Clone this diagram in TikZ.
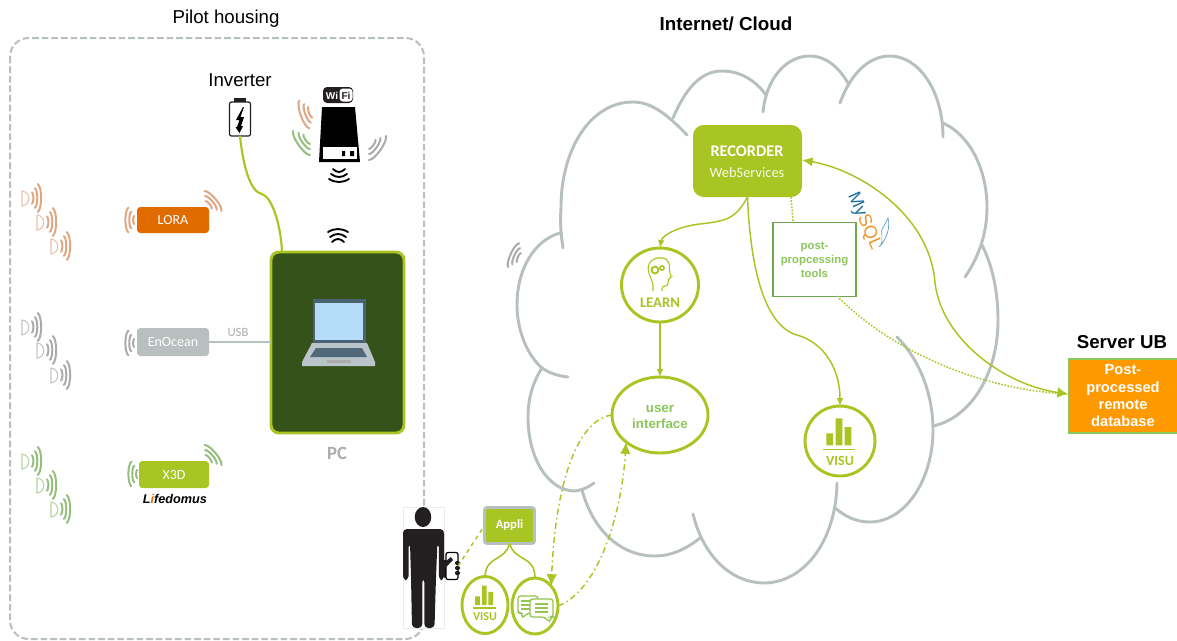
\documentclass[tikz,border=0pt]{standalone}
\usepackage{fontspec}
\setmainfont{Liberation Sans}
\newfontfamily\crl{Carlito}
\usetikzlibrary{arrows.meta,shapes.geometric}
\definecolor{lime}{HTML}{A8C523}
\definecolor{cloudgrey}{HTML}{B7C0BE}
\definecolor{pcgreen}{HTML}{345219}
\definecolor{txtgreen}{HTML}{8CC65C}
\definecolor{boxgreen}{HTML}{70A850}
\definecolor{lora}{HTML}{E06C00}
\definecolor{sigorange}{HTML}{DFA684}
\definecolor{siggreen}{HTML}{95BE7E}
\definecolor{siggrey}{HTML}{ABABAB}
\definecolor{dark}{HTML}{231F20}
\definecolor{lapdark}{HTML}{4A6274}
\definecolor{lapkey}{HTML}{506878}
\definecolor{lapbase}{HTML}{B9C5CB}
\definecolor{lapscreen}{HTML}{B5DCF8}
\definecolor{dolphin}{HTML}{5C9BC4}
\definecolor{srvorange}{HTML}{FF9900}
\tikzset{
  dim/.style 2 args={minimum width=#1*0.75pt,minimum height=#2*0.75pt,inner sep=0pt,outer sep=0pt},
  cloudline/.style={draw=cloudgrey,line width=2.2pt,line cap=round},
  radio/.style={rounded corners=2.5pt,text=white,font=\crl\fontsize{10.5}{12}\selectfont},
  ring/.style={draw=lime,line width=2.2pt,fill=white,ellipse,inner sep=0pt,outer sep=0pt},
  link/.style={draw=lime,line width=1.1pt},
  tip/.style={-{Latex[length=6pt,width=5pt]}},
  bigtip/.style={{Latex[length=8pt,width=7pt]}-{Latex[length=8pt,width=8pt]}},
  dashdot/.style={draw=lime,line width=1.1pt,dash pattern=on 4.5pt off 2.5pt on 1.2pt off 2.5pt},
  dotlink/.style={draw=lime,line width=1.1pt,dash pattern=on 1.2pt off 1.2pt},
}
% signal arcs: x, y, rotation, colour, list of radii
\newcommand{\sigarcs}[5]{%
  \begin{scope}[shift={(#1,#2)},rotate=#3]
  \foreach \r in {#5}{
    \draw[#4,line width=1.5pt,line cap=round] ({.574*\r},{-.819*\r}) .. controls ({.841*\r},{-.632*\r}) and ({.841*\r},{.632*\r}) .. ({.574*\r},{.819*\r});
  }
  \end{scope}}
% sensor: half disc and three arcs
\newcommand{\sensor}[3]{%
  \draw[#3!70!white,line width=.8pt] (#1-3,#2-7) -- (#1-3,#2+8) .. controls (#1+6,#2+7) and (#1+6,#2-6) .. (#1-3,#2-7) -- cycle;
  \sigarcs{#1+3}{#2}{0}{#3}{7,12,17}}
% flat wifi strokes; x, y, direction sign
\newcommand{\flatwifi}[3]{%
  \foreach \d/\w in {0/6,5/8,10/10}{
    \draw[black,line width=1.4pt,line cap=round] (#1-\w,{#2+#3*(\d-3)}) .. controls (#1-\w/3,{#2+#3*(\d+1)}) and (#1+\w/3,{#2+#3*(\d+1)}) .. (#1+\w,{#2+#3*(\d-3)});
  }}
% VISU icon
\newcommand{\visuicon}[3]{%
  \begin{scope}[shift={(#1,#2)},scale=#3]
  \fill[lime] (-13.7,4.3) rectangle (-7,-7.7) (-4.3,4.3) rectangle (2.3,-22.7) (4.7,4.3) rectangle (11.3,-14);
  \draw[lime,line width=1pt] (-17,8.3) -- (15,8.3);
  \end{scope}}
\begin{document}
\begin{tikzpicture}[x=0.75pt,y=-0.75pt]
\useasboundingbox (0,0) rectangle (1177,640);
% titles
\node[font=\fontsize{14}{16}\selectfont] (tpilot) at (226,19) {Pilot housing};
\node[font=\bfseries\fontsize{14.1}{16}\selectfont] (tcloud) at (726,24) {Internet/ Cloud};
\node[font=\bfseries\fontsize{14}{16}\selectfont] (tserver) at (1122,342) {Server UB};
% housing
\draw[cloudgrey,line width=1.5pt,dash pattern=on 5pt off 2.2pt,rounded corners=14pt] (10,38) rectangle (424,639);
% cloud
\draw[cloudline] (687,135) .. controls (665,112) and (650,102) .. (633,102) .. controls (590,102) and (561,150) .. (561,207) .. controls (560,225) and (561,235) .. (563,248);
\draw[cloudline] (673,118) .. controls (685,90) and (700,71) .. (722,71) .. controls (740,71) and (755,80) .. (766,95);
\draw[cloudline] (763,112) .. controls (766,80) and (785,56) .. (810,56) .. controls (825,56) and (838,66) .. (848,83);
\draw[cloudline] (840,103) .. controls (850,75) and (868,56) .. (890,56) .. controls (918,56) and (943,90) .. (943,137);
\draw[cloudline] (943,123) .. controls (970,135) and (987,170) .. (987,207) .. controls (987,235) and (978,258) .. (965,277);
\draw[cloudline] (982,245) .. controls (992,265) and (998,290) .. (998,320) .. controls (998,375) and (970,418) .. (933,426);
\draw[cloudline] (897,337) .. controls (920,360) and (933,395) .. (933,430) .. controls (933,480) and (905,522) .. (870,522) .. controls (855,522) and (845,516) .. (835,508);
\draw[cloudline] (837,483) .. controls (836,540) and (805,582) .. (765,583) .. controls (730,583) and (703,555) .. (693,514);
\draw[cloudline] (700,538) .. controls (685,550) and (670,556) .. (655,556) .. controls (620,556) and (593,530) .. (582,490);
\draw[cloudline] (594,483) .. controls (587,488) and (582,490) .. (575,491) .. controls (548,491) and (528,458) .. (528,417) .. controls (528,398) and (533,382) .. (542,368);
\draw[cloudline] (568,377) .. controls (558,376) and (549,373) .. (542,368) .. controls (527,355) and (517,330) .. (517,305) .. controls (517,268) and (535,240) .. (560,233);
\sigarcs{522}{259}{155}{siggrey}{6,11,16}
% sensors
\foreach \x/\y in {25/198,40/222,54/246}{\sensor{\x}{\y}{sigorange}}
\foreach \x/\y in {25/327,40/350,54/375}{\sensor{\x}{\y}{siggrey}}
\foreach \x/\y in {25/461,40/485,54/509}{\sensor{\x}{\y}{siggreen}}
% radio boxes
\node[radio,fill=lora,dim={72}{26}] (lorabox) at (173,220) {LORA};
\node[radio,fill=cloudgrey,dim={72}{28}] (enocean) at (173,342) {EnOcean};
\node[radio,fill=lime,dim={70}{27}] (xthreed) at (174,474.5) {X3D};
\sigarcs{137}{220}{180}{sigorange}{5,10,15}
\sigarcs{206}{207}{40}{sigorange}{6,11,16}
\sigarcs{137}{343}{180}{siggrey}{5,10,15}
\sigarcs{140}{474}{180}{siggreen}{5,10,15}
\sigarcs{206}{461}{40}{siggreen}{6,11,16}
\node[font=\bfseries\itshape\fontsize{9.5}{11}\selectfont,inner sep=0pt] (lifed) at (175,499) {L\textcolor{lora}{i}fedomus};
% PC
\node[draw=lime,fill=pcgreen,line width=2.2pt,rounded corners=6pt,dim={133}{181}] (pc) at (337.5,342.5) {};
\node[font=\crl\bfseries\fontsize{14}{17}\selectfont,text=siggrey] (pclabel) at (337,453) {PC};
\node[font=\crl\fontsize{9.5}{11}\selectfont,text=siggrey] (usb) at (238,332) {USB};
\draw[cloudgrey,line width=2.2pt] (enocean.east) -- (enocean.east -| pc.west);
% laptop
\fill[lapdark] (313,299) rectangle (366,343);
\fill[lapscreen] (315,303) rectangle (363,340);
\fill[lapbase] (312,343) -- (367,343) -- (375,362) -- (375,366) -- (302,366) -- (302,362) -- cycle;
\fill[lapkey] (316,348) -- (362,348) -- (367,357) -- (310,357) -- cycle;
\fill[siggrey] (327,360) rectangle (351,363);
\flatwifi{338}{239}{-1}
% inverter battery
\node[draw=dark,fill=white,line width=.9pt,rounded corners=1.5pt,dim={21}{34}] (inv) at (240,119) {};
\fill[dark] (234,98) rectangle (246,102);
\fill[black] (243,107) -- (236,120) -- (239.5,120) -- (237,127) -- (235.5,127) -- (239.5,133) -- (243,126) -- (241,126) -- (244,117) -- (240.5,117) -- (244,107) -- cycle;
\node[font=\fontsize{14}{16}\selectfont] (tinv) at (240,80) {Inverter};
\draw[lime,line width=1.6pt] (inv.south) .. controls (243,165) and (250,192) .. (262,194) .. controls (272,197) and (281,225) .. (282,252);
% wifi dongle
\fill[black] (322,107) -- (355,107) -- (360,162) -- (319,162) -- cycle;
\fill[white] (323,147) rectangle (357,159);
\fill[black] (342,151) rectangle (345,156) (350,151) rectangle (354,156);
\node[fill=dark,rounded corners=3pt,dim={30}{16}] (wifibadge) at (338,95) {};
\node[fill=white,rounded corners=2.5pt,dim={13}{13}] (fibadge) at (346,95) {};
\node[font=\bfseries\fontsize{7.5}{8}\selectfont,text=white,inner sep=0pt] (wi) at (332,95.5) {Wi};
\node[font=\bfseries\fontsize{7.5}{8}\selectfont,text=dark,inner sep=0pt] (fi) at (346,95.5) {Fi};
\sigarcs{314}{111}{200}{sigorange}{7,12,18}
\sigarcs{310}{137}{215}{siggreen}{7,12,18}
\sigarcs{369}{142}{-35}{siggrey}{7,12,18}
\flatwifi{339}{172}{1}
% person
\node[draw=black!8,fill=white,line width=.4pt,dim={41}{121}] (personbox) at (423.5,567.5) {};
\fill[dark] (423,517) ellipse [x radius=6.2pt,y radius=7.5pt];
\fill[dark,rounded corners=3pt] (403,580) -- (403,529) -- (444,529) -- (444,580) -- (438.8,580) -- (438.8,543) -- (437.4,543) -- (436,577) -- (434.5,628) -- (424.3,628) -- (424.3,578) -- (422.3,578) -- (422.3,628) -- (412,628) -- (411,577) -- (410,543) -- (408.6,543) -- (408.6,580) -- cycle;
\fill[dark] (444,560) .. controls (438,570) and (439,578) .. (447,578) -- (452,560) -- cycle;
\node[draw=black,fill=white,line width=.9pt,rounded corners=1.5pt,dim={12}{27}] (phone) at (452,566) {};
\fill[dark] (441,565) -- (451,557) -- (453,560) -- (445,568) -- cycle;
\foreach \y in {563,568,573}{\fill[dark,rounded corners=1pt] (455,\y-2) rectangle (460,\y+2);}
% appli
\node[draw=cloudgrey,fill=lime,line width=2.2pt,rounded corners=2pt,dim={50}{36},text=white,font=\crl\bfseries\fontsize{9.5}{12}\selectfont] (app) at (509.5,525.5) {Appli};
\node[ring,dim={46}{57}] (visusmall) at (485,605) {};
\node[ring,dim={46}{56}] (chat) at (535,606) {};
\visuicon{485}{602}{.72}
\node[font=\crl\bfseries\fontsize{9}{11}\selectfont,text=lime,inner sep=0pt] (visusmalltxt) at (485,617) {VISU};
\begin{scope}[draw=txtgreen!80!lime,line width=1pt]
\draw[rounded corners=2pt,fill=white] (518,596) -- (538,596) -- (538,613) -- (528,613) -- (522,618) -- (522,613) -- (518,613) -- cycle;
\draw (521,601) -- (530,601) (521,605) -- (530,605) (521,609) -- (530,609);
\draw[rounded corners=2pt,fill=white] (530,599) -- (553,599) -- (553,617) -- (551,617) -- (550,622) -- (544,617) -- (530,617) -- cycle;
\draw (535,604) -- (548,604) (535,608) -- (548,608) (535,612) -- (548,612);
\end{scope}
\draw[link,line width=1.2pt] (app.south) .. controls (505,562) and (486,555) .. (visusmall.north);
\draw[link,line width=1.2pt] (app.south) .. controls (515,562) and (535,555) .. (chat.north);
\draw[draw=lime,line width=1.1pt,dashed] (phone.east) -- (app.west);
% recorder etc
\node[fill=lime,rounded corners=8pt,dim={109}{72}] (rec) at (747.5,161) {};
\node[text=white,font=\crl\bfseries\fontsize{12.2}{15}\selectfont,inner sep=0pt] (rectxt) at (747,151) {RECORDER};
\node[text=white!90!lime,font=\crl\fontsize{10.8}{14}\selectfont,inner sep=0pt] (wstxt) at (747,173) {WebServices};
\node[ring,dim={77}{74}] (lrn) at (660,285) {};
\node[text=lime,font=\crl\bfseries\fontsize{11}{13}\selectfont,inner sep=0pt] (lrntxt) at (660,303) {LEARN};
\draw[lime,line width=.8pt,rounded corners=2pt] (653,291) -- (653,284) -- (650,276) .. controls (645,262) and (655,258) .. (660,258) .. controls (668,258) and (670,265) .. (669,271) -- (672,277) -- (668,279) -- (668,286) -- (662,286) -- (662,291);
\draw[lime,line width=1.4pt,fill=white] (655,270) circle [radius=2.6pt];
\draw[lime,line width=1.1pt,fill=white] (662,268) circle [radius=1.6pt];
\node[ring,dim={96}{76}] (ui) at (660,415) {};
\node[text=txtgreen,align=center,font=\bfseries\fontsize{10}{12}\selectfont,inner sep=0pt] (uitxt) at (660,416.5) {user\\[0pt]interface};
\node[draw=boxgreen,fill=white,line width=1.4pt,dim={83}{74},text=txtgreen,align=center,font=\bfseries\fontsize{8.5}{10.5}\selectfont] (post) at (814.5,259.5) {post-\\propcessing\\tools};
\node[ring,dim={70}{70}] (vis) at (840,441) {};
\visuicon{840}{441}{1}
\node[font=\crl\bfseries\fontsize{10.5}{13}\selectfont,text=lime,inner sep=0pt] (vistxt) at (840,461) {VISU};
% mysql
\node[rotate=-66,font=\fontsize{13.5}{15}\selectfont,inner sep=0pt] (mysql) at (864,221) {\textcolor[HTML]{1A6E9E}{My}\textcolor[HTML]{E8962A}{SQL}};
\draw[dolphin,line width=.5pt] (879,247) .. controls (886,240) and (878,232) .. (884,226) -- (888,218) .. controls (890,226) and (888,238) .. (879,247);
% server
\node[draw=txtgreen,fill=srvorange,line width=1.4pt,dim={109}{74},text=white,align=center,font=\bfseries\fontsize{11}{13}\selectfont] (srv) at (1123,396) {Post-\\processed\\remote\\database};
% connectors
\coordinate (recin) at (802,160);
\coordinate (srvin) at (1068,394);
\coordinate (postout) at (837,296);
\coordinate (recdot) at (791,197);
\coordinate (postin) at (793,222);
\draw[link,tip] (rec.south) .. controls (735,220) and (725,221) .. (700,224) .. controls (680,226) and (662,235) .. (lrn.north);
\draw[link,tip] (rec.south) .. controls (750,260) and (762,325) .. (797,335) .. controls (825,343) and (840,370) .. (vis.north);
\draw[link,tip] (lrn.south) -- (ui.north);
\draw[link,bigtip] (recin) .. controls (860,170) and (930,215) .. (935,283) .. controls (942,340) and (1005,385) .. (srvin);
\draw[dotlink] (recdot) -- (postin);
\draw[dotlink] (postout) .. controls (890,350) and (980,390) .. (srvin);
\draw[dashdot,-{Latex[length=9pt,width=8pt]}] (ui.west) .. controls (575,420) and (555,490) .. (chat.north east);
\draw[dashdot,-{Latex[length=9pt,width=8pt]}] (chat.east) .. controls (600,590) and (622,510) .. (ui.south west);
\end{tikzpicture}
\end{document}
